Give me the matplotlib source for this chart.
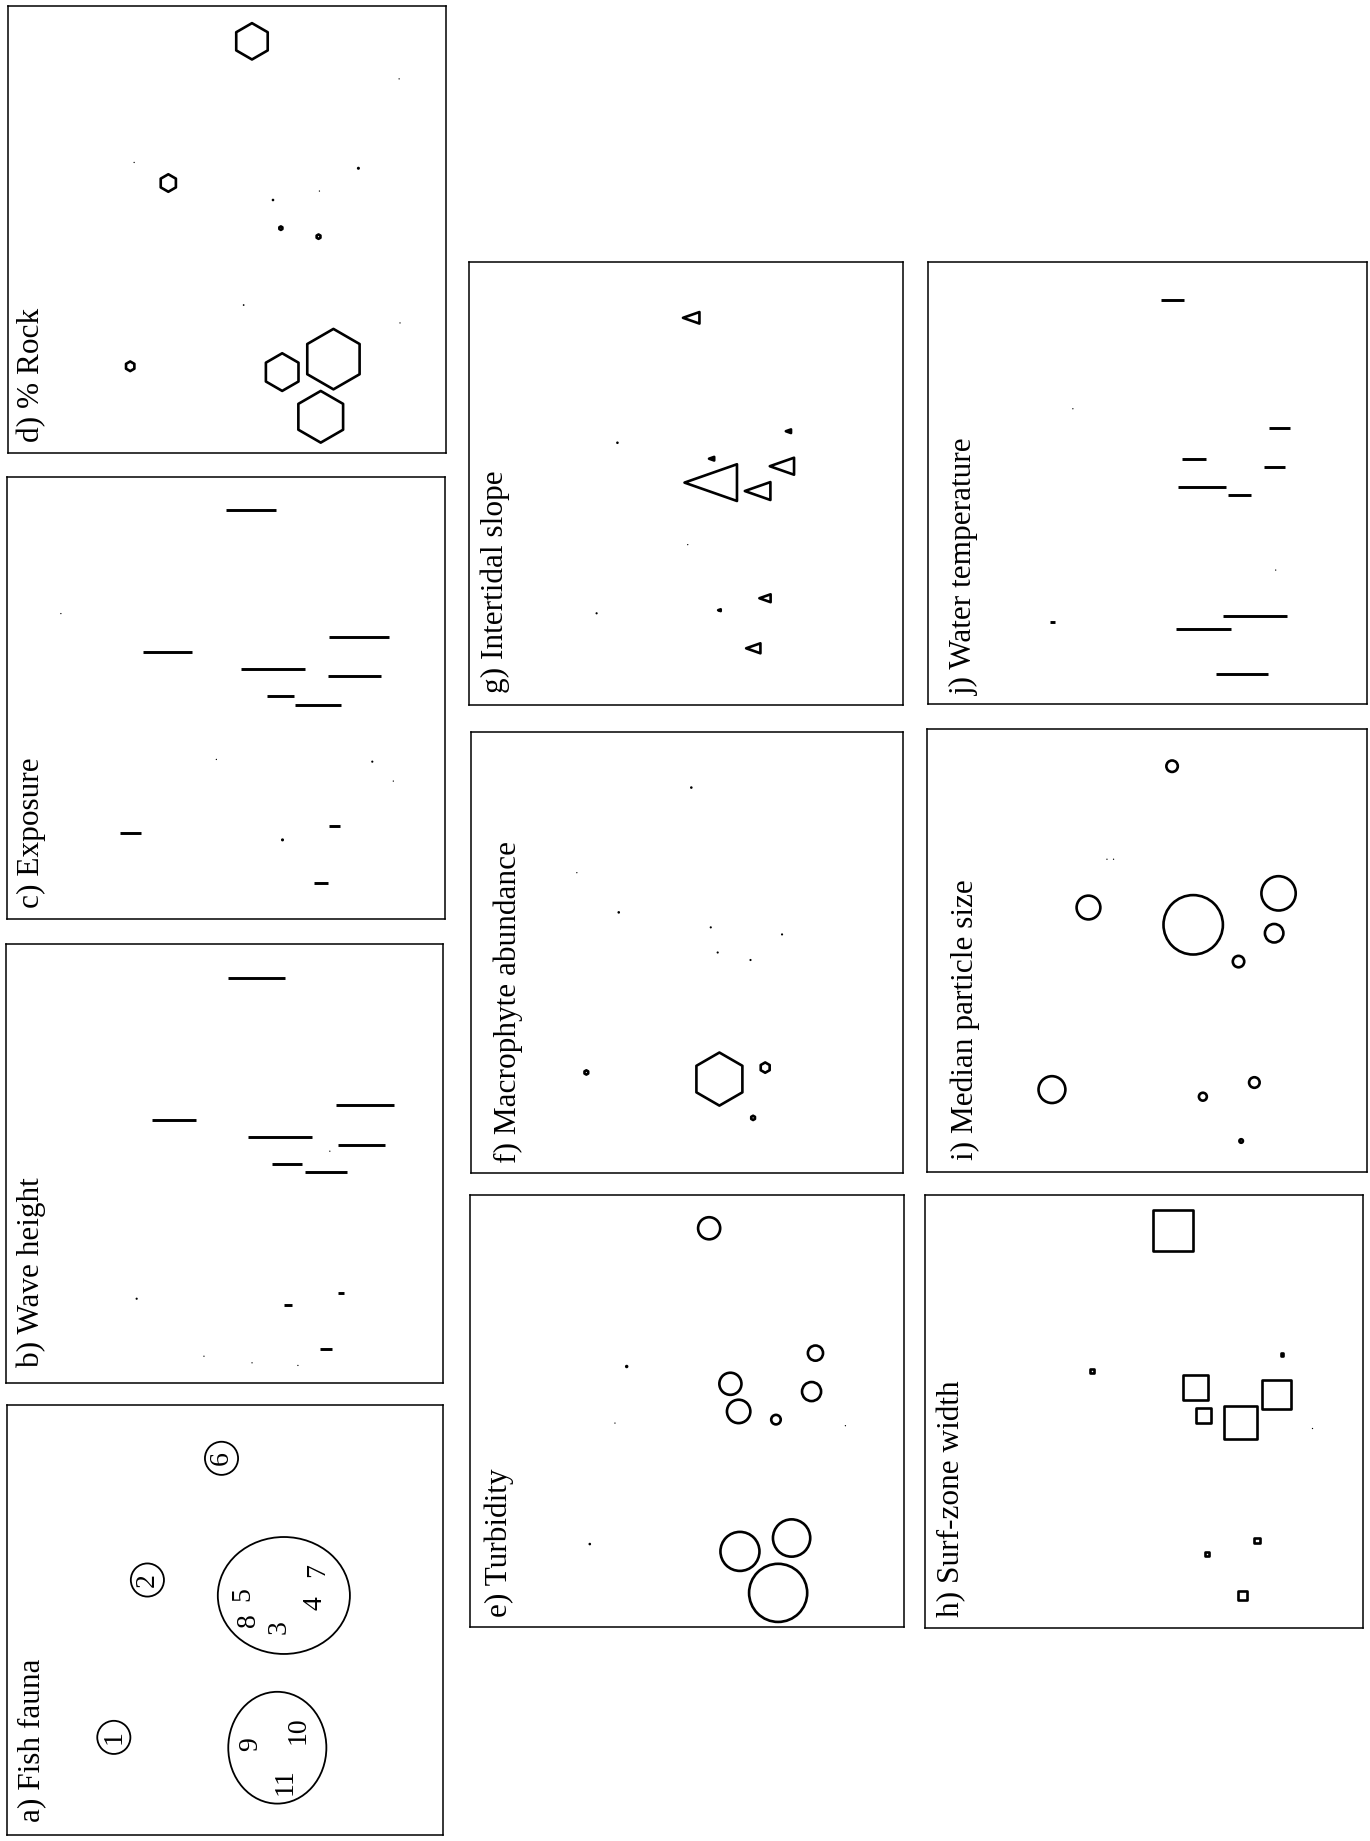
# site ordination, one panel per variable (page printed sideways)

import numpy as np
import matplotlib
matplotlib.use('Agg')
import matplotlib.pyplot as plt
from matplotlib.patches import Ellipse
from matplotlib.path import Path

plt.rcParams['font.family'] = ['Liberation Serif', 'DejaVu Serif']

# a) fish fauna: site numbers and the two groups
fish_labels = ['1', '2', '6', '8', '5', '3', '4', '7', '9', '11', '10']
fish_x = [24.5, 32.2, 49.2, 55.3, 54.1, 62.5, 70.6, 71.3, 55.8, 63.7, 66.7]
fish_y = [77.3, 40.7, 12.4, 50.0, 44.0, 51.7, 46.1, 38.4, 78.8, 87.6, 75.7]
fish_circled = ['1', '2', '6']
group_x = [63.5, 62.0]
group_y = [44.3, 79.7]
group_w = [30.3, 22.5]
group_h = [27.2, 26.0]

# b) wave height
wave_x = [57.3, 38.5, 62.7, 82.2, 81.4, 64.3, 73.2, 76.6, 64.6, 73.3]
wave_y = [7.8, 40.1, 43.9, 36.7, 45.7, 50.2, 52.0, 79.4, 82.3, 92.2]
wave_len = [13.2, 10.1, 14.5, 13.3, 10.8, 6.9, 9.7, 1.4, 1.9, 2.7]
wave_dot_x = [29.9, 74.1, 45.3, 56.3, 66.8]
wave_dot_y = [80.8, 47.2, 93.9, 95.4, 96.0]
wave_dot_s = [0.5, 0.3, 0.3, 0.3, 0.3]

# c) exposure
exp_x = [55.7, 36.7, 60.7, 80.4, 79.3, 62.4, 71.0, 28.2, 74.8, 71.7]
exp_y = [7.4, 39.6, 43.4, 36.2, 45.1, 49.6, 51.5, 80.6, 78.9, 91.9]
exp_len = [11.3, 11.2, 14.7, 13.7, 12.0, 6.3, 10.3, 5.0, 2.5, 3.3]
exp_dot_x = [62.9, 83.4, 12.3, 47.8, 88.2]
exp_dot_y = [82.1, 64.4, 30.9, 63.9, 68.8]
exp_dot_s = [0.7, 0.5, 0.3, 0.3, 0.3]

# d) % rock
rock_x = [55.7, 36.6, 74.3, 62.6, 71.4, 27.9, 70.9, 62.3]
rock_y = [7.9, 39.6, 79.0, 81.9, 91.9, 80.6, 51.6, 49.7]
rock_size = [8.9, 4.6, 14.4, 9.2, 12.4, 2.8, 1.6, 1.4]
rock_dot_x = [80.0, 60.5, 28.8, 71.1, 53.8, 89.3, 89.5]
rock_dot_y = [36.3, 43.4, 35.0, 41.4, 66.9, 16.3, 70.9]
rock_dot_s = [0.7, 0.6, 0.3, 0.3, 0.4, 0.3, 0.3]

# e) turbidity
turb_x = [71.0, 62.2, 74.1, 55.1, 60.0, 61.9, 70.5, 78.7, 79.6]
turb_y = [92.1, 82.5, 79.4, 7.7, 43.7, 50.1, 52.0, 45.5, 36.6]
turb_size = [14.0, 9.6, 9.2, 5.7, 5.7, 6.0, 2.8, 5.0, 4.1]
turb_dot_x = [36.1, 27.6, 33.4, 86.5]
turb_dot_y = [39.7, 80.8, 52.8, 53.4]
turb_dot_s = [0.8, 0.6, 0.3, 0.3]

# f) macrophyte abundance
macro_x = [57.5, 68.1, 65.3, 26.7]
macro_y = [78.7, 76.1, 87.5, 77.2]
macro_size = [12.9, 3.0, 1.6, 1.6]
macro_dot_x = [51.0, 34.2, 55.5, 57.1, 64.7, 72.0, 24.5]
macro_dot_y = [12.6, 40.9, 44.3, 50.0, 51.7, 45.9, 31.9]
macro_dot_s = [0.6, 0.6, 0.5, 0.5, 0.5, 0.5, 0.3]

# g) intertidal slope
slope_x = [55.7, 66.5, 72.1, 51.2, 73.6, 55.9, 68.2, 65.5, 57.7]
slope_y = [49.8, 51.7, 46.1, 12.6, 38.2, 44.4, 75.9, 87.2, 78.6]
slope_size = [12.7, 6.5, 6.2, 4.4, 1.8, 1.8, 3.2, 3.9, 1.2]
slope_dot_x = [34.2, 29.4, 50.4]
slope_dot_y = [40.8, 79.3, 63.8]
slope_dot_s = [0.6, 0.5, 0.3]

# h) surf-zone width
surf_x = [56.6, 61.8, 63.6, 72.0, 80.3, 38.1, 81.5, 75.8, 64.4, 72.5]
surf_y = [8.2, 44.4, 50.9, 52.5, 46.0, 40.6, 36.9, 79.8, 82.9, 92.5]
surf_size = [9.8, 6.4, 3.9, 8.0, 7.3, 1.6, 1.2, 1.8, 1.4, 2.8]
surf_dot_x = [88.3]
surf_dot_y = [53.8]
surf_dot_s = [0.3]

# i) median particle size
part_x = [60.5, 79.9, 78.9, 70.8, 36.7, 55.7, 28.4, 62.7, 74.4, 71.4]
part_y = [44.2, 37.1, 46.1, 52.5, 40.3, 8.4, 81.4, 83.0, 79.8, 93.0]
part_size = [14.1, 8.4, 4.8, 3.2, 6.0, 3.2, 6.7, 2.4, 3.0, 1.4]
part_dot_x = [40.9, 42.4]
part_dot_y = [29.4, 29.4]
part_dot_s = [0.3, 0.3]

# j) water temperature
temp_x = [55.7, 80.0, 60.6, 79.0, 62.4, 70.9, 74.5, 62.8, 71.5, 28.3]
temp_y = [8.5, 37.5, 44.5, 46.3, 50.9, 52.8, 80.1, 83.1, 93.1, 81.5]
temp_len = [5.2, 4.7, 5.3, 4.7, 10.9, 5.2, 14.7, 12.5, 11.9, 1.1]
temp_dot_x = [33.0, 79.2]
temp_dot_y = [33.2, 69.7]
temp_dot_s = [0.3, 0.3]

W, H = 1370, 1841
fig = plt.figure(figsize=(W / 100, H / 100), dpi=100)
fig.patch.set_facecolor('white')

LW = 1.9  # outline width, points
tri_left = Path([(-1, 0), (1, 0.7), (1, -0.7), (-1, 0)], closed=True)


def make_panel(box, label, base_px, bottom_px):
    x0, y0, x1, y1 = box
    ax = fig.add_axes([x0 / W, 1 - y1 / H, (x1 - x0) / W, (y1 - y0) / H])
    ax.set_xlim(0, 100)
    ax.set_ylim(100, 0)
    ax.set_xticks([])
    ax.set_yticks([])
    for sp in ax.spines.values():
        sp.set_linewidth(1.1)
    ax.text(base_px / (x1 - x0) * 100, 100 - bottom_px / (y1 - y0) * 100, label,
            rotation=90, rotation_mode='anchor', ha='left', va='baseline',
            fontsize=22.5)
    return ax


def pct_to_pts(ax, v):
    # percent of panel width -> points
    return np.asarray(v, dtype=float) * ax.bbox.width / 100 * 72 / fig.dpi


def outline(ax, x, y, size, marker):
    ms = np.maximum(pct_to_pts(ax, size) - LW, 0.8)
    ax.scatter(x, y, s=ms ** 2, marker=marker, facecolors='none',
               edgecolors='black', linewidths=LW, zorder=3)


def dots(ax, x, y, size):
    ms = pct_to_pts(ax, size)
    ax.scatter(x, y, s=ms ** 2, marker='o', color='black', linewidths=0, zorder=3)


def bars(ax, x, y, length):
    x = np.asarray(x)
    half = np.asarray(length) / 2
    ax.hlines(y, x - half, x + half, color='black', linewidth=2.1, zorder=3)


# a) Fish fauna
ax = make_panel((7, 1405, 443, 1835), 'a) Fish fauna', 32, 13)
for gx, gy, gw, gh in zip(group_x, group_y, group_w, group_h):
    ax.add_patch(Ellipse((gx, gy), gw, gh, fill=False, edgecolor='black', linewidth=1.3))
for lab, x, y in zip(fish_labels, fish_x, fish_y):
    ax.text(x, y, lab, rotation=90, rotation_mode='anchor', ha='center', va='center',
            fontsize=20)
    if lab in fish_circled:
        ax.scatter([x], [y], s=pct_to_pts(ax, 7.6) ** 2, marker='o', facecolors='none',
                   edgecolors='black', linewidths=1.3)

# b) Wave height
ax = make_panel((6, 944, 443, 1383), 'b) Wave height', 33, 16)
bars(ax, wave_x, wave_y, wave_len)
dots(ax, wave_dot_x, wave_dot_y, wave_dot_s)

# c) Exposure
ax = make_panel((7, 477, 445, 919), 'c) Exposure', 32, 11)
bars(ax, exp_x, exp_y, exp_len)
dots(ax, exp_dot_x, exp_dot_y, exp_dot_s)

# d) % Rock
ax = make_panel((8, 6, 446, 453), 'd) % Rock', 31, 11)
outline(ax, rock_x, rock_y, rock_size, 'h')
dots(ax, rock_dot_x, rock_dot_y, rock_dot_s)

# e) Turbidity
ax = make_panel((470, 1195, 904, 1627), 'e) Turbidity', 37, 10)
outline(ax, turb_x, turb_y, turb_size, 'o')
dots(ax, turb_dot_x, turb_dot_y, turb_dot_s)

# f) Macrophyte abundance
ax = make_panel((471, 732, 903, 1173), 'f) Macrophyte abundance', 45, 10)
outline(ax, macro_x, macro_y, macro_size, 'h')
dots(ax, macro_dot_x, macro_dot_y, macro_dot_s)

# g) Intertidal slope
ax = make_panel((469, 262, 903, 705), 'g) Intertidal slope', 34, 12)
outline(ax, slope_x, slope_y, slope_size, tri_left)
dots(ax, slope_dot_x, slope_dot_y, slope_dot_s)

# h) Surf-zone width
ax = make_panel((925, 1195, 1363, 1628), 'h) Surf-zone width', 34, 11)
outline(ax, surf_x, surf_y, surf_size, 's')
dots(ax, surf_dot_x, surf_dot_y, surf_dot_s)

# i) Median particle size
ax = make_panel((927, 729, 1367, 1172), 'i) Median particle size', 46, 12)
outline(ax, part_x, part_y, part_size, 'o')
dots(ax, part_dot_x, part_dot_y, part_dot_s)

# j) Water temperature
ax = make_panel((928, 262, 1367, 704), 'j) Water temperature', 44, 9)
bars(ax, temp_x, temp_y, temp_len)
dots(ax, temp_dot_x, temp_dot_y, temp_dot_s)

fig.savefig('out.png', dpi=100, facecolor='white')
